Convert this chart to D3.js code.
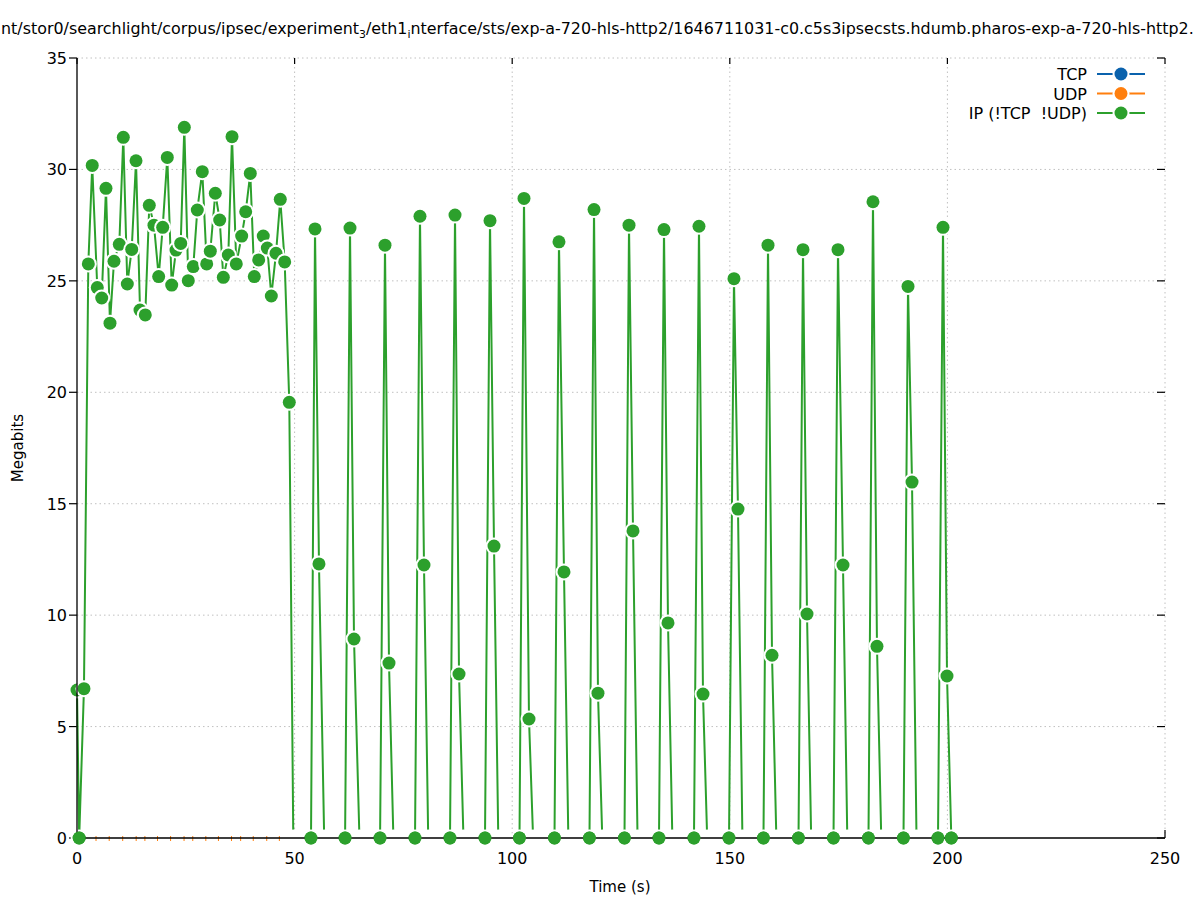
<!DOCTYPE html>
<html>
<head>
  <meta charset="utf-8">
  <title>ipsec sts</title>
  <script src="https://cdn.jsdelivr.net/npm/d3@7"></script>
  <style>
    body { margin: 0; padding: 0; background: #fff; }
    text { font-family: "DejaVu Sans", sans-serif; fill: #000; white-space: pre; }
  </style>
</head>
<body>
  <div id="chart"></div>
  <script>
    // axis ticks
    var xTicks = [0, 50, 100, 150, 200, 250]
    var yTicks = [0, 5, 10, 15, 20, 25, 30, 35]

    // IP (!TCP !UDP) - first busy stretch, one sample per ~second
    var ipTime = [0, 0.5, 1.6, 2.6, 3.5, 4.66, 5.68, 6.66, 7.58, 8.5, 9.72, 10.64, 11.56, 12.57,
      13.56, 14.48, 15.69, 16.61, 17.69, 18.77, 19.69, 20.75, 21.76, 22.75, 23.83, 24.66, 25.57,
      26.72, 27.64, 28.79, 29.8, 30.63, 31.78, 32.79, 33.62, 34.77, 35.62, 36.6, 37.84, 38.76,
      39.82, 40.74, 41.75, 42.8, 43.73, 44.65, 45.73, 46.71, 47.72, 48.78, 49.7]
    var ipMbits = [6.64, 0, 6.7, 25.76, 30.18, 24.7, 24.23, 29.15, 23.1, 25.88, 26.64, 31.44, 24.86, 26.41,
      30.39, 23.69, 23.47, 28.39, 27.5, 25.19, 27.4, 30.54, 24.81, 26.38, 26.68, 31.89, 25.01,
      25.64, 28.18, 29.9, 25.76, 26.33, 28.93, 27.73, 25.16, 26.16, 31.47, 25.76, 27.01, 28.1,
      29.82, 25.19, 25.94, 27.01, 26.47, 24.32, 26.24, 28.66, 25.85, 19.55, 0]

    // IP - later bursts: zero, peak, second sample, back to zero
    var burstStart = [53.77, 61.6, 69.64, 77.67, 85.71, 93.75, 101.68, 109.72, 117.76, 125.8,
      133.73, 141.77, 149.82, 157.74, 165.79, 173.83, 181.87, 189.91, 197.84]
    var burstPeakTime = [54.69, 62.73, 70.77, 78.81, 86.86, 94.9, 102.71, 110.75, 118.8, 126.84,
      134.88, 142.92, 150.96, 158.78, 166.82, 174.86, 182.9, 190.95, 198.99]
    var burstPeak = [27.33, 27.37, 26.6, 27.9, 27.95, 27.7, 28.7, 26.75, 28.2, 27.5,
      27.3, 27.45, 25.1, 26.6, 26.4, 26.4, 28.55, 24.75, 27.4]
    var burstTailTime = [55.6, 63.65, 71.69, 79.73, 87.78, 95.82, 103.86, 111.9, 119.71, 127.76,
      135.8, 143.84, 151.88, 159.7, 167.74, 176.01, 183.82, 191.87, 199.91]
    var burstTail = [12.3, 8.93, 7.85, 12.25, 7.36, 13.1, 5.34, 11.94, 6.5, 13.78,
      9.65, 6.46, 14.76, 8.2, 10.05, 12.25, 8.6, 15.97, 7.27]
    var burstEnd = [56.8, 64.9, 72.7, 80.7, 88.8, 96.8, 104.8, 112.9, 120.7, 128.8,
      136.8, 144.8, 152.9, 160.7, 168.7, 177.0, 184.8, 192.9, 200.9]

    // UDP samples (all zero) that peek out along the time axis
    var udpTime = [4.37, 7.4, 10.5, 13.6, 15.6, 18.5, 21.5, 24.6, 26.6, 29.6, 32.5, 35.5,
      37.6, 40.5, 43.6, 46.5]

    var seriesNames = ["TCP", "UDP", "IP (!TCP  !UDP)"]
    var seriesColors = ["#0a62ad", "#ff7f0e", "#2ca02c"]

    var W = 1197, H = 900
    var margin = { top: 58, right: 32, bottom: 62, left: 77 }
    var width = W - margin.left - margin.right
    var height = H - margin.top - margin.bottom

    var svg = d3.select("#chart").append("svg")
      .attr("width", W).attr("height", H)

    var x = d3.scaleLinear().domain([0, 250]).range([margin.left, margin.left + width])
    var y = d3.scaleLinear().domain([0, 35]).range([margin.top + height, margin.top])

    // build the IP series
    var ip = []
    for (var i = 0; i < ipTime.length; i++) ip.push({ t: ipTime[i], v: ipMbits[i] })
    for (var k = 0; k < burstStart.length; k++) {
      ip.push({ t: burstStart[k], v: 0 })
      ip.push({ t: burstPeakTime[k], v: burstPeak[k] })
      ip.push({ t: burstTailTime[k], v: burstTail[k] })
      ip.push({ t: burstEnd[k], v: 0 })
    }
    ip.forEach(function (d, i) {
      var next = ip[i + 1]
      d.shown = d.v > 0 || !next || next.v > 0
    })

    // grid
    var grid = svg.append("g")
    xTicks.slice(1).forEach(function (t) {
      grid.append("line")
        .attr("x1", x(t)).attr("x2", x(t)).attr("y1", y(0)).attr("y2", y(35))
        .attr("stroke", "#c0c0c0").attr("stroke-width", 1).attr("stroke-dasharray", "1.5,3")
    })
    yTicks.slice(1).forEach(function (t) {
      grid.append("line")
        .attr("x1", x(0)).attr("x2", x(250)).attr("y1", y(t)).attr("y2", y(t))
        .attr("stroke", "#c0c0c0").attr("stroke-width", 1).attr("stroke-dasharray", "1.5,3")
    })

    // tick marks
    var ticks = svg.append("g").attr("stroke", "#000").attr("stroke-width", 1.2)
    yTicks.forEach(function (t) {
      ticks.append("line").attr("x1", x(0) - 8).attr("x2", x(0)).attr("y1", y(t)).attr("y2", y(t))
      ticks.append("line").attr("x1", x(250) - 8).attr("x2", x(250)).attr("y1", y(t)).attr("y2", y(t))
    })
    xTicks.forEach(function (t) {
      ticks.append("line").attr("x1", x(t)).attr("x2", x(t)).attr("y1", y(35)).attr("y2", y(35) + 6)
    })
    ticks.append("line").attr("x1", x(250)).attr("x2", x(250)).attr("y1", y(0)).attr("y2", y(0) - 8)

    // tick labels
    yTicks.forEach(function (t) {
      svg.append("text").attr("x", x(0) - 10).attr("y", y(t) + 6)
        .attr("text-anchor", "end").style("font-size", "16px").text(t)
    })
    xTicks.forEach(function (t) {
      svg.append("text").attr("x", x(t)).attr("y", y(0) + 26)
        .attr("text-anchor", "middle").style("font-size", "16px").text(t)
    })

    // UDP zeros
    udpTime.forEach(function (t) {
      svg.append("line").attr("x1", x(t)).attr("x2", x(t)).attr("y1", y(0) - 2).attr("y2", y(0) + 3)
        .attr("stroke", seriesColors[1]).attr("stroke-width", 1)
    })

    // IP line (runs along zero are hidden by the axis)
    var line = d3.line().x(function (d) { return x(d.t) }).y(function (d) { return y(d.v) })
    var segs = ""
    for (var j = 0; j < ip.length - 1; j++) {
      if (ip[j].v == 0 && ip[j + 1].v == 0) continue
      segs += line([ip[j], ip[j + 1]])
    }
    svg.append("path").attr("d", segs).attr("fill", "none")
      .attr("stroke", seriesColors[2]).attr("stroke-width", 2)

    // points: white backdrop then marker
    var pts = svg.append("g")
    ip.forEach(function (d) {
      pts.append("circle").attr("cx", x(d.t)).attr("cy", y(d.v)).attr("r", 8.5).attr("fill", "#fff")
      if (d.shown)
        pts.append("circle").attr("cx", x(d.t)).attr("cy", y(d.v)).attr("r", 6.5).attr("fill", seriesColors[2])
    })

    // border (left and bottom)
    svg.append("path")
      .attr("d", "M" + x(0) + "," + y(35) + "V" + y(0) + "H" + x(250))
      .attr("fill", "none").attr("stroke", "#000").attr("stroke-width", 1.3)

    // zero markers sit on top of the axis
    ip.filter(function (d) { return d.shown && d.v == 0 }).forEach(function (d) {
      svg.append("circle").attr("cx", x(d.t)).attr("cy", y(d.v)).attr("r", 6.5).attr("fill", seriesColors[2])
    })

    // axis labels
    svg.append("text").attr("x", 620).attr("y", 892).attr("text-anchor", "middle")
      .style("font-size", "15px").text("Time (s)")
    svg.append("text").attr("transform", "translate(23,448) rotate(-90)").attr("text-anchor", "middle")
      .style("font-size", "15px").text("Megabits")

    // legend
    var leg = svg.append("g")
    seriesNames.forEach(function (name, i) {
      var cy = 74 + i * 19.5
      leg.append("text").attr("x", 1087).attr("y", cy + 6).attr("text-anchor", "end")
        .style("font-size", "16px").text(name)
      leg.append("line").attr("x1", 1097).attr("x2", 1145).attr("y1", cy).attr("y2", cy)
        .attr("stroke", seriesColors[i]).attr("stroke-width", 2)
      leg.append("circle").attr("cx", 1121).attr("cy", cy).attr("r", 8.5).attr("fill", "#fff")
      leg.append("circle").attr("cx", 1121).attr("cy", cy).attr("r", 6.5).attr("fill", seriesColors[i])
    })

    // title (overflows the page on both sides in the original)
    var title = svg.append("text").attr("x", 0).attr("y", 34).style("font-size", "16px")
    title.append("tspan").text("nt/stor0/searchlight/corpus/ipsec/experiment")
    title.append("tspan").attr("dy", 4).style("font-size", "11px").text("3")
    title.append("tspan").attr("dy", -4).text("/eth1")
    title.append("tspan").attr("dy", 4).style("font-size", "11px").text("i")
    title.append("tspan").attr("dy", -4).text("nterface/sts/exp-a-720-hls-http2/1646711031-c0.c5s3ipsecsts.hdumb.pharos-exp-a-720-hls-http2.")
    var tw = title.node().getBBox().width
    title.attr("transform", "translate(1,0) scale(" + (1194 / tw) + ",1)")
  </script>
</body>
</html>
